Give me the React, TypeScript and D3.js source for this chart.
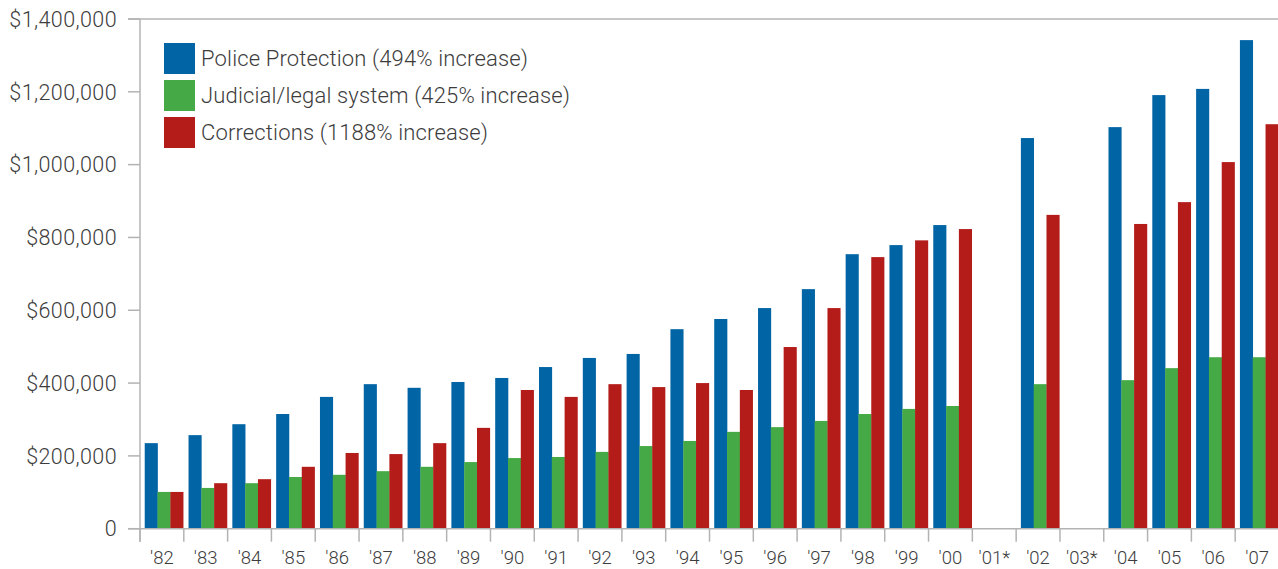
import React from "react";
import * as d3 from "d3";

const years = ["'82","'83","'84","'85","'86","'87","'88","'89","'90","'91","'92","'93","'94","'95","'96","'97","'98","'99","'00","'01*","'02","'03*","'04","'05","'06","'07"];
const police = [235000,257000,287000,315000,362000,397000,387000,403000,414000,444000,469000,480000,548000,576000,606000,658000,754000,779000,834000,null,1073000,null,1103000,1191000,1208000,1342000];
const judicial = [101000,112000,125000,142000,148000,158000,170000,183000,194000,197000,211000,227000,241000,266000,279000,296000,315000,329000,337000,null,397000,null,408000,441000,471000,471000];
const corrections = [101000,125000,136000,170000,208000,205000,235000,277000,381000,362000,397000,389000,400000,381000,499000,606000,746000,792000,823000,null,862000,null,837000,897000,1007000,1111000];
const seriesNames = ["Police Protection (494% increase)","Judicial/legal system (425% increase)","Corrections (1188% increase)"];
const seriesColors = ["#0064a5","#45aa45","#b31c19"];
const yTicks = [0,200000,400000,600000,800000,1000000,1200000,1400000];

const W = 1278, H = 569;
const left = 140, right = 1279, top = 19, bottom = 528.7;
const font = "Roboto, 'Liberation Sans', Arial, sans-serif";
const axisColor = "#b3b3b3";
const textColor = "#3c3c3c";

export default function App() {
  const x = d3.scaleBand<string>().domain(years).range([left, right]).paddingInner(0).paddingOuter(0);
  const y = d3.scaleLinear().domain([0, 1400000]).range([bottom, top]);
  const bw = x.bandwidth();
  const sub = d3.scaleBand<number>().domain([0,1,2]).range([bw * 0.108, bw * 0.985]).padding(0);
  const series = [police, judicial, corrections];
  const fmt = (v: number) => (v === 0 ? "0" : "$" + d3.format(",")(v));

  return (
    <svg width={W} height={H} style={{ position: "absolute", left: 0, top: 0, background: "#fff" }} fontFamily={font}>
      {years.map((yr, i) => (
        <g key={yr} transform={`translate(${x(yr)},0)`}>
          {series.map((s, k) => {
            const v = s[i];
            if (v == null) return null;
            return (
              <rect key={k} x={sub(k)} y={y(v)} width={sub.bandwidth() + 0.3} height={y(0) - y(v)} fill={seriesColors[k]} />
            );
          })}
        </g>
      ))}
      <line x1={128} x2={W} y1={y(1400000)} y2={y(1400000)} stroke={axisColor} strokeWidth={1.5} />
      <line x1={128} x2={W} y1={y(0)} y2={y(0)} stroke={axisColor} strokeWidth={1.5} />
      <line x1={left} x2={left} y1={top} y2={bottom + 13} stroke={axisColor} strokeWidth={1.5} />
      {yTicks.map((t) => (
        <g key={t}>
          <line x1={128} x2={left} y1={y(t)} y2={y(t)} stroke={axisColor} strokeWidth={1.5} />
          <text x={117} y={y(t)} dy="0.36em" textAnchor="end" fontSize={21.5} letterSpacing={0.4} fill={textColor} fontWeight={300}>
            {fmt(t)}
          </text>
        </g>
      ))}
      {years.map((yr) => (
        <line key={"t" + yr} x1={x(yr)!} x2={x(yr)!} y1={bottom} y2={bottom + 13} stroke={axisColor} strokeWidth={1.5} />
      ))}
      {years.map((yr) => (
        <text key={"l" + yr} x={x(yr)! + bw / 2} y={564} textAnchor="middle" fontSize={18.5} fill={textColor} fontWeight={300}>
          {yr}
        </text>
      ))}
      {seriesNames.map((n, k) => (
        <g key={n} transform={`translate(164,${43 + k * 37})`}>
          <rect x={0} y={0} width={31} height={31} fill={seriesColors[k]} />
          <text x={37} y={15.5} dy="0.36em" fontSize={22} letterSpacing={0.15} fill={textColor} fontWeight={300}>
            {n}
          </text>
        </g>
      ))}
    </svg>
  );
}
